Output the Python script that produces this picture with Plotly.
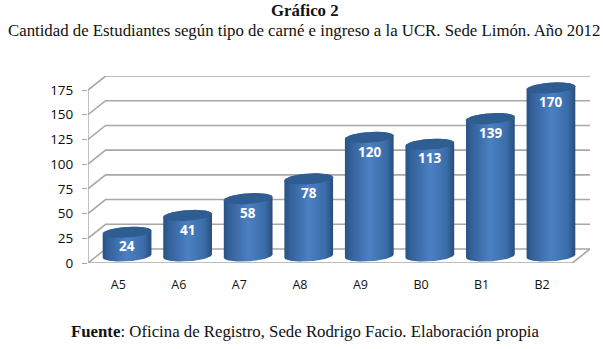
import numpy as np
import plotly.graph_objects as go

categories = ["A5", "A6", "A7", "A8", "A9", "B0", "B1", "B2"]
values = [24, 41, 58, 78, 120, 113, 139, 170]
y_ticks = [0, 25, 50, 75, 100, 125, 150, 175]

W, H = 603, 349
L, R, T, B = 87.7, 590.3, 76.0, 263.0
PX_X = (572.7 - 87.7) / 8            # pixels per category
PX_Y = (263.0 - 90.0) / 175          # pixels per value unit
DX = (590.3 - 572.7) / PX_X          # depth offset, x units
DY = 14.0 / PX_Y                     # depth offset, y units
X0, X1 = -0.5, 7.5 + DX
Y0, Y1 = 0, 175 + DY

GRID = "#a8a8a8"
BODY = [[0, "#2a5283"], [0.12, "#33619a"], [0.5, "#4c80c2"], [0.85, "#3a6ca8"], [1, "#284d7a"]]
TOP = "#2f5d92"

fig = go.Figure()


def line(xs, ys, color=GRID, width=1.6):
    fig.add_trace(go.Scatter(x=xs, y=ys, mode="lines", line=dict(color=color, width=width),
                             hoverinfo="skip", showlegend=False))


# Back wall and side wall gridlines
for v in y_ticks:
    line([X0, X0 + DX, X1], [v, v + DY, v + DY])
# Floor front edge and right diagonal
line([X0, 7.5, X1], [0, 0, DY])
# Left axis line
line([X0, X0], [0, 175], width=1.4)
# Category tick marks
for b in np.arange(X0, 8, 1.0):
    line([b, b], [0, -5.5 / PX_Y], width=1.2)

# Cylinders
half_w = 23.4 / PX_X
skew_x = 6.9 / PX_X
semi_y = 5.6 / PX_Y
t = np.linspace(0, 2 * np.pi, 121)
t_tan = np.arctan2(skew_x, half_w)   # angle of the rightmost point
for i, (cat, v) in enumerate(zip(categories, values)):
    xc = i + DX / 2
    yc = v + DY / 2
    yb = DY / 2
    # body outline: top back contour, then base front contour
    up = np.linspace(t_tan, t_tan + np.pi, 61)
    down = np.linspace(t_tan + np.pi, t_tan + 2 * np.pi, 61)
    bx = np.concatenate([xc + half_w * np.cos(up) + skew_x * np.sin(up),
                         xc + half_w * np.cos(down) + skew_x * np.sin(down)])
    by = np.concatenate([yc + semi_y * np.sin(up), yb + semi_y * np.sin(down)])
    fig.add_trace(go.Scatter(
        x=np.append(bx, bx[0]), y=np.append(by, by[0]), mode="lines", fill="toself",
        line=dict(width=0, color="rgba(0,0,0,0)"),
        fillgradient=dict(type="horizontal", colorscale=BODY),
        hoverinfo="skip", showlegend=False))
    fig.add_trace(go.Scatter(
        x=xc + half_w * np.cos(t) + skew_x * np.sin(t), y=yc + semi_y * np.sin(t),
        mode="lines", fill="toself", fillcolor=TOP, line=dict(width=0, color=TOP),
        hoverinfo="skip", showlegend=False))
    fig.add_annotation(x=xc, y=yc - 14.2 / PX_Y, text=f"<b>{v}</b>", showarrow=False,
                       font=dict(family="Open Sans", size=13.5, color="white"))

fig.update_layout(
    width=W, height=H, paper_bgcolor="white", plot_bgcolor="white",
    margin=dict(l=L, r=W - R, t=T, b=H - B, pad=0),
    showlegend=False,
    font=dict(family="Open Sans", color="#1a1a1a"),
    xaxis=dict(range=[X0, X1], tickmode="array", tickvals=list(range(8)), ticktext=categories,
               showgrid=False, zeroline=False, showline=False, ticks="",
               ticklabelstandoff=12, tickfont=dict(size=12.5, family="Open Sans", color="#111111"),
               fixedrange=True),
    yaxis=dict(range=[Y0, Y1], tickmode="array", tickvals=y_ticks,
               showgrid=False, zeroline=False, showline=False, ticks="outside", ticklen=5,
               tickcolor=GRID, tickwidth=1.4, ticklabelstandoff=6,
               tickfont=dict(size=13.5, family="Open Sans", color="#0a0a0a"), fixedrange=True),
)

serif = "Liberation Serif"
titles = [("<b>Gráfico 2</b>", 305, 11), 
          ("Cantidad de Estudiantes según tipo de carné e ingreso a la UCR. Sede Limón. Año 2012", 304, 31),
          ("<b>Fuente</b>: Oficina de Registro, Sede Rodrigo Facio. Elaboración propia", 305, 331)]
for text, px, py in titles:
    fig.add_annotation(xref="paper", yref="paper", x=(px - L) / (R - L), y=(B - py) / (B - T),
                       xanchor="center", yanchor="middle", text=text, showarrow=False,
                       font=dict(family=serif, size=16.8, color="#111111"))

fig.write_html("out.html", config={"displayModeBar": False},
               post_script="document.body.style.margin='0';document.body.style.overflow='hidden';")
